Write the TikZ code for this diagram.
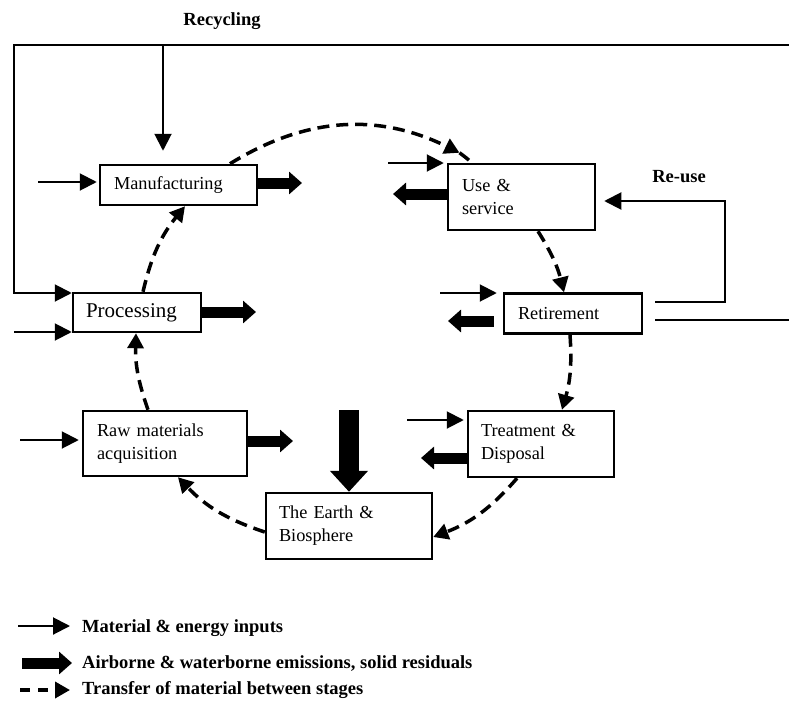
\documentclass[tikz,border=0pt]{standalone}
\usepackage{fontspec}
\setmainfont{Liberation Serif}
\usetikzlibrary{arrows.meta,calc}
\begin{document}
\begin{tikzpicture}[x=1pt,y=1pt,
  stage/.style={draw, line width=2.5pt, rectangle, inner xsep=14pt, inner ysep=0pt, align=left, font=\fontsize{18.3}{23}\selectfont},
  thinarr/.style={line width=2pt, -{Triangle[length=17pt,width=17pt]}},
  thickarr/.style={line width=11pt, -{Triangle[length=13pt,width=22pt]}},
  bigarr/.style={line width=20pt, -{Triangle[length=21pt,width=37pt]}},
  dashline/.style={line width=3.5pt, dash pattern=on 12pt off 7pt},
  dasharr/.style={dashline, -{Triangle[length=15pt,width=16pt]}},
  lbl/.style={font=\bfseries\fontsize{18.5}{22}\selectfont, inner sep=0pt},
  plainline/.style={line width=2pt}
]
\useasboundingbox (0,0) rectangle (789,-709);

% stages
\node[stage, text width=129pt, minimum height=40pt] (manu) at (178.5,-185) {Manufacturing};
\node[stage, text width=119pt, minimum height=66pt] (use) at (521.5,-197) {Use \&\\service};
\node[stage, text width=110pt, minimum height=40pt] (ret) at (573,-313.5) {Retirement};
\node[stage, text width=102pt, minimum height=39pt, font=\fontsize{21}{25}\selectfont, inner xsep=13pt] (proc) at (137,-312.5) {Processing};
\node[stage, text width=136pt, minimum height=65pt] (raw) at (165,-443.5) {Raw materials\\acquisition};
\node[stage, text width=140pt, minimum height=66pt, inner xsep=13pt] (earth) at (349,-526) {The Earth \&\\Biosphere};
\node[stage, text width=120pt, minimum height=66pt, inner xsep=13pt] (treat) at (541,-444) {Treatment \&\\Disposal};

% labels
\node[lbl, anchor=base] (reclbl) at (222,-26) {Recycling};
\node[lbl, anchor=base] (reulbl) at (679,-182) {Re-use};

% recycling loop
\coordinate (recTR) at (789,-45);
\coordinate (recTL) at (14,-45);
\coordinate (recPL) at (14,-293);
\coordinate (recM) at (163,-45);
\draw[thinarr] (recTR) -- (recTL) -- (recPL) -- (recPL -| proc.west);
\draw[thinarr, shorten >=13pt] (recM) -- (recM |- manu.north);

% re-use loop
\coordinate (ru1) at (725,-302);
\coordinate (ru2) at (725,-201);
\draw[thinarr, shorten <=12pt, shorten >=8pt] (ru1 -| ret.east) -- (ru1) -- (ru2) -- (ru2 -| use.east);
\coordinate (rr) at (789,-320);
\draw[plainline, shorten <=12pt] (rr -| ret.east) -- (rr);

% inputs
\coordinate (manuIn) at (38,-182);
\draw[thinarr, shorten >=2pt] (manuIn) -- (manuIn -| manu.west);
\coordinate (useIn) at (388,-163);
\draw[thinarr, shorten >=3pt] (useIn) -- (useIn -| use.west);
\coordinate (retIn) at (440,-293);
\draw[thinarr, shorten >=6pt] (retIn) -- (retIn -| ret.west);
\coordinate (procIn) at (14,-332);
\draw[thinarr] (procIn) -- (procIn -| proc.west);
\coordinate (rawIn) at (20,-440);
\draw[thinarr, shorten >=3pt] (rawIn) -- (rawIn -| raw.west);
\coordinate (treatIn) at (407,-420);
\draw[thinarr, shorten >=3pt] (treatIn) -- (treatIn -| treat.west);

% emissions
\coordinate (manuOut) at (302,-183);
\draw[thickarr] (manuOut -| manu.east) -- (manuOut);
\coordinate (useOut) at (393,-194);
\draw[thickarr] (useOut -| use.west) -- (useOut);
\coordinate (retOut) at (448,-321);
\draw[thickarr, shorten <=9pt] (retOut -| ret.west) -- (retOut);
\coordinate (procOut) at (256,-312);
\draw[thickarr] (procOut -| proc.east) -- (procOut);
\coordinate (rawOut) at (293,-441);
\draw[thickarr] (rawOut -| raw.east) -- (rawOut);
\coordinate (treatOut) at (421,-458);
\draw[thickarr] (treatOut -| treat.west) -- (treatOut);
\coordinate (earthIn) at (349,-410);
\draw[bigarr] (earthIn) -- (earth.north);

% transfer cycle
\coordinate (m1) at ([xshift=51.5pt]manu.north);
\coordinate (u1) at ([xshift=-49.5pt]use.north);
\coordinate (uTip) at ([shift={(-12.5pt,10pt)}]u1);
\coordinate (u2) at ([xshift=16.5pt]use.south);
\coordinate (r1) at ([xshift=-9pt]ret.north);
\coordinate (r2) at ([xshift=-3pt]ret.south);
\coordinate (t1) at ([xshift=21pt]treat.north);
\coordinate (t2) at ([xshift=-24pt]treat.south);
\coordinate (e1) at ([yshift=-11pt]earth.east);
\coordinate (e2) at ([yshift=-6pt]earth.west);
\coordinate (w1) at ([xshift=13pt]raw.south);
\coordinate (w2) at ([xshift=-17pt]raw.north);
\coordinate (p1) at ([xshift=-1pt]proc.south);
\coordinate (p2) at ([xshift=6pt]proc.north);
\coordinate (m2) at ([xshift=6.5pt]manu.south);

\draw[dashline] (uTip) to[bend left=2] (u1);
\draw[dasharr] (m1) to[bend left=29] (uTip);
\draw[dasharr] (u2) to[bend left=9] (r1);
\draw[dasharr] (r2) to[bend left=10] (t1);
\draw[dasharr] (t2) to[bend left=14] (e1);
\draw[dasharr] (e2) to[bend left=14] (w1);
\draw[dasharr] (w2) to[bend left=10.5] (p1);
\draw[dasharr] (p2) to[bend left=13] (m2);

% legend
\node[lbl, anchor=base west] (lg1) at (82,-632) {Material \& energy inputs};
\node[lbl, anchor=base west] (lg2) at (82,-668) {Airborne \& waterborne emissions, solid residuals};
\node[lbl, anchor=base west] (lg3) at (82,-694) {Transfer of material between stages};
\coordinate (lg1s) at (18,-626);
\coordinate (lg2s) at (22,-663);
\coordinate (lg3s) at (20,-690);
\draw[thinarr, shorten >=12pt] (lg1s) -- (lg1s -| lg1.west);
\draw[thickarr, shorten >=10pt] (lg2s) -- (lg2s -| lg2.west);
\draw[dasharr, dash pattern=on 10pt off 8pt, shorten >=12pt] (lg3s) -- (lg3s -| lg3.west);
\end{tikzpicture}
\end{document}
